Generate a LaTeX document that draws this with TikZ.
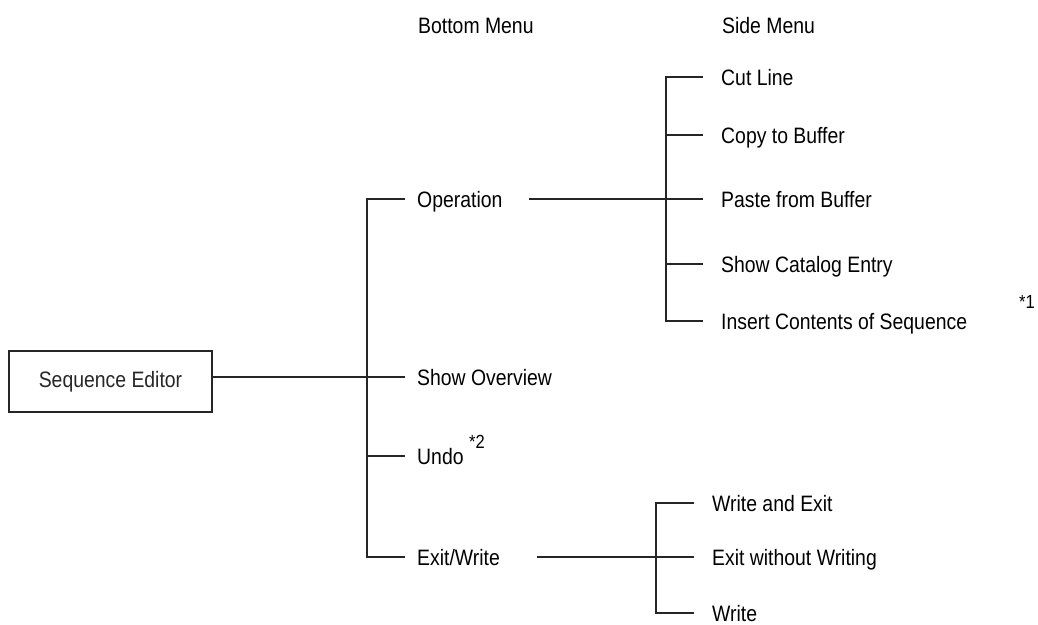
\documentclass[tikz,border=0pt]{standalone}
\usepackage{fontspec}
\setmainfont{Liberation Sans}[FakeStretch=0.87]
\begin{document}
\begin{tikzpicture}[x=1pt,y=-1pt,
  lbl/.style={anchor=west,inner ysep=0pt,text height=16pt,text depth=0pt,font=\fontsize{22.3}{26}\selectfont},
  bot/.style={lbl,inner xsep=12pt},
  side/.style={lbl,inner xsep=18pt},
  hdr/.style={lbl,inner xsep=0pt},
  note/.style={anchor=west,inner sep=0pt,font=\fontsize{19}{22}\selectfont},
  ln/.style={line width=1.3pt,black!85}]
\useasboundingbox (0,0) rectangle (1038,624);
% headers
\node[hdr] (hb) at (418,25) {Bottom Menu};
\node[hdr] (hs) at (722,25) {Side Menu};
% root
\node[draw,ln,minimum width=203pt,minimum height=61pt,inner sep=0pt,
      font=\fontsize{22.3}{26}\selectfont] (se) at (110.5,381.5) {Sequence Editor};
% bottom menu
\coordinate (bv) at (367,0);
\node[bot] (op) at (405,199) {Operation};
\node[bot] (so) at (405,377) {Show Overview};
\node[bot] (un) at (405,456) {Undo};
\node[bot] (ew) at (405,557) {Exit/Write};
\node[note] (n2) at (469,442) {*2};
% side menu (operation)
\coordinate (sv) at (666,0);
\node[side] (cl) at (703,77) {Cut Line};
\node[side] (cb) at (703,135) {Copy to Buffer};
\node[side] (pb) at (703,199) {Paste from Buffer};
\node[side] (sc) at (703,264) {Show Catalog Entry};
\node[side] (ic) at (703,321) {Insert Contents of Sequence};
\node[note] (n1) at (1019,302) {*1};
% side menu (exit/write)
\coordinate (wv) at (656,0);
\node[side] (we) at (694,503) {Write and Exit};
\node[side] (ex) at (694,557) {Exit without Writing};
\node[side] (wr) at (694,613) {Write};
% connectors
\draw[ln] (so.west -| se.east) -- (so.west);
\draw[ln] (op.west) -| (ew.west -| bv) -- (ew.west);
\draw[ln] (un.west -| bv) -- (un.west);
\draw[ln] (529,199) coordinate (opl) -- (pb.west);
\draw[ln] (cl.west) -| (ic.west -| sv) -- (ic.west);
\draw[ln] (cb.west -| sv) -- (cb.west);
\draw[ln] (sc.west -| sv) -- (sc.west);
\draw[ln] (537,557) coordinate (ewl) -- (ex.west);
\draw[ln] (we.west) -| (wr.west -| wv) -- (wr.west);
\end{tikzpicture}
\end{document}
